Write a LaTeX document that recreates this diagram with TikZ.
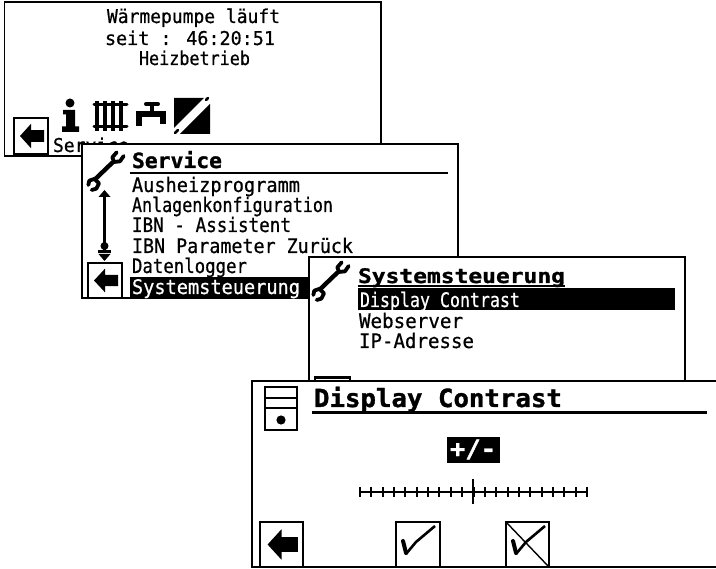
\documentclass[tikz,border=0pt]{standalone}
\usepackage{graphicx}
\usepackage{fontspec}
\setmainfont{DejaVu Sans Mono}
\newfontfamily\lcdreg[FakeBold=0.7]{DejaVu Sans Mono}
\newfontfamily\lcdbold[FakeBold=1.2]{DejaVu Sans Mono Bold}
\newcommand\lcd[2]{\resizebox{#1pt}{\height}{#2}}
\tikzset{
  panel/.style={draw=black,fill=white,line width=1.1pt},
  lcdtxt/.style={anchor=base west,inner sep=0pt,outer sep=0pt,text=black,font=\fontsize{20}{20}\lcdreg},
  lcdsmall/.style={lcdtxt,font=\fontsize{19}{19}\lcdreg},
  lcdtitle/.style={lcdtxt,font=\fontsize{21}{21}\lcdbold},
  lcdbig/.style={lcdtxt,font=\fontsize{25}{25}\lcdbold},
  inv/.style={text=white},
  rulebar/.style={draw=black,line width=2.2pt},
  btn/.style={draw=black,fill=white,line width=2.2pt},
  ink/.style={draw=black,line width=3pt,line cap=round,line join=round},
}
\newcommand\backbtn[4]{%
  \draw[btn] (#1,#2) rectangle (#1+#3,#2+#4);
  \begin{scope}[shift={(#1,#2)},x=#3/34*1pt,y=-#4/34*1pt]
    \fill[black] (6,17) -- (17,5.5) -- (17,11.5) -- (30,11.5) -- (30,22.5) -- (17,22.5) -- (17,28.5) -- cycle;
  \end{scope}}
\newcommand\wrench[2]{%
  \begin{scope}[shift={(#1,#2)},x=.3333pt,y=-.3333pt]
    \draw[ink,line width=3.8pt] (125,37) -- (112,52) -- (117,66) -- (135,64) -- (146,48);
    \draw[ink,line width=4.4pt] (112,68) -- (60,118);
    \draw[ink,line width=3.8pt] (60,116) -- (43,122) -- (40,135);
    \draw[ink,line width=3.8pt] (62,120) -- (72,130) -- (64,146) -- (50,150);
  \end{scope}}
\begin{document}
\begin{tikzpicture}[x=1pt,y=-1pt]
\useasboundingbox (0,0) rectangle (716,569);
\fill[white] (0,0) rectangle (716,569);
% Panel 1
\draw[panel] (4.5,2) rectangle (381,156);
\node[lcdsmall] (p1a) at (107,23) {\lcd{173}{Wärmepumpe läuft}};
\node[lcdsmall] (p1b) at (105,45) {\lcd{170}{seit : 46:20:51}};
\node[lcdsmall] (p1c) at (139,65) {\lcd{111}{Heizbetrieb}};
\node[lcdsmall] (p1d) at (53,152) {\lcd{76}{Service}};
\backbtn{14}{118}{34}{36}
% i
\fill[black] (70,103) circle (4.5);
\fill[black] (63,110) rectangle (75,114.5) (66,110) rectangle (75,128) (62,126.5) rectangle (79,132);
% radiator
\draw[ink,line width=3.6pt,line cap=butt] (97,101) -- (97,131) (105,101) -- (105,131) (113,101) -- (113,131) (121,101) -- (121,131);
\draw[ink,line width=3pt] (94,105) -- (127,105) (94,127) -- (127,127);
% tap
\draw[ink,line width=6pt,line cap=butt,line join=miter] (139,126) -- (139,114) -- (163,114) -- (163,124);
\draw[ink,line width=4pt] (152,104) -- (152,112) (146,104) -- (158,104);
% split square
\fill[black] (174,98) -- (204,98) -- (174,128) -- cycle;
\fill[black] (210,104) -- (210,134) -- (180,134) -- cycle;
\draw[ink,line width=2.8pt] (206,100) -- (208,98) (175,133) -- (178,130);
% Panel 2
\draw[panel] (82,144) rectangle (458,298);
\wrench{75}{140}
\node[lcdtitle] (p2t) at (132,168) {\lcd{90}{Service}};
\draw[rulebar] (p2t.base west) ++(-2,5) -- ++(318,0);
\node[lcdtxt] (p2a) at (132,192) {\lcd{168}{Ausheizprogramm}};
\node[lcdtxt] (p2b) at (132,212) {\lcd{201}{Anlagenkonfiguration}};
\node[lcdtxt] (p2c) at (132,232) {\lcd{159}{IBN - Assistent}};
\node[lcdtxt] (p2d) at (132,253) {\lcd{221}{IBN Parameter Zurück}};
\node[lcdtxt] (p2e) at (132,273) {\lcd{115}{Datenlogger}};
\fill[black] (130,277) rectangle (312,297);
\node[lcdtxt,inv] (p2f) at (132,294) {\lcd{168}{Systemsteuerung}};
% scroll arrow
\fill[black] (104.5,190) -- (110.5,197) -- (98.5,197) -- cycle;
\draw[black,line width=2.4pt] (104.5,196) -- (104.5,250);
\fill[black] (104.5,246) circle (4);
\fill[black] (98,250) rectangle (111,253);
\fill[black] (104.5,261) -- (98.5,254) -- (110.5,254) -- cycle;
\backbtn{88}{263}{34}{35}
% Panel 3
\draw[panel] (309,257) rectangle (685,392);
\draw[btn] (315,377.5) rectangle (350,392);
\wrench{300}{250}
\fill[black] (358,288) rectangle (675,310);
\node[lcdtitle,font=\fontsize{20}{20}\lcdbold] (p3t) at (358,283) {\lcd{207}{Systemsteuerung}};
\draw[black,line width=1.2pt] (358,286) -- (565,286);
\node[lcdtxt,inv] (p3a) at (360,307) {\lcd{160}{Display Contrast}};
\node[lcdtxt] (p3b) at (359,328) {\lcd{104}{Webserver}};
\node[lcdtxt] (p3c) at (359,348) {\lcd{115}{IP-Adresse}};
% Panel 4
\fill[white] (252,381) rectangle (716,567);
\draw[panel] (716,381) -- (252,381) -- (252,567) -- (716,567);
\node[lcdbig] (p4t) at (314,407) {\lcd{248}{Display Contrast}};
\draw[rulebar,line width=2.6pt] (312,412.5) -- (707,412.5);
\draw[black,line width=1.8pt] (265,387) rectangle (297,430) (265,398) -- (297,398) (265,408) -- (297,408);
\fill[black] (281,420) circle (4.6);
\node[draw=black,fill=black,text=white,minimum width=52pt,minimum height=25pt,inner sep=0pt,font=\fontsize{24}{24}\lcdbold] (pm) at (473,449.5) {\lcd{46}{+/-}};
% scale
\draw[black,line width=2pt] (360,492) -- (587,492);
\foreach \i in {0,...,20} { \draw[black,line width=2pt] ({360+\i*11.35},487) -- ({360+\i*11.35},497); }
\draw[black,line width=2.2pt] (473,479) -- (473,504);
% buttons
\backbtn{260}{522}{43}{45}
\draw[btn] (396,522) rectangle (440,567);
\draw[black,line width=4pt,line cap=round] (403,541) -- (406,553);
\draw[black,line width=2.6pt] (406,554) -- (416,542) -- (435,526);
\draw[btn] (506,522) rectangle (549,567);
\draw[black,line width=4pt,line cap=round] (513,541) -- (516,553);
\draw[black,line width=2.6pt] (516,554) -- (526,542) -- (545,526);
\draw[black,line width=1.4pt] (506,522) -- (549,567);
\end{tikzpicture}
\end{document}
